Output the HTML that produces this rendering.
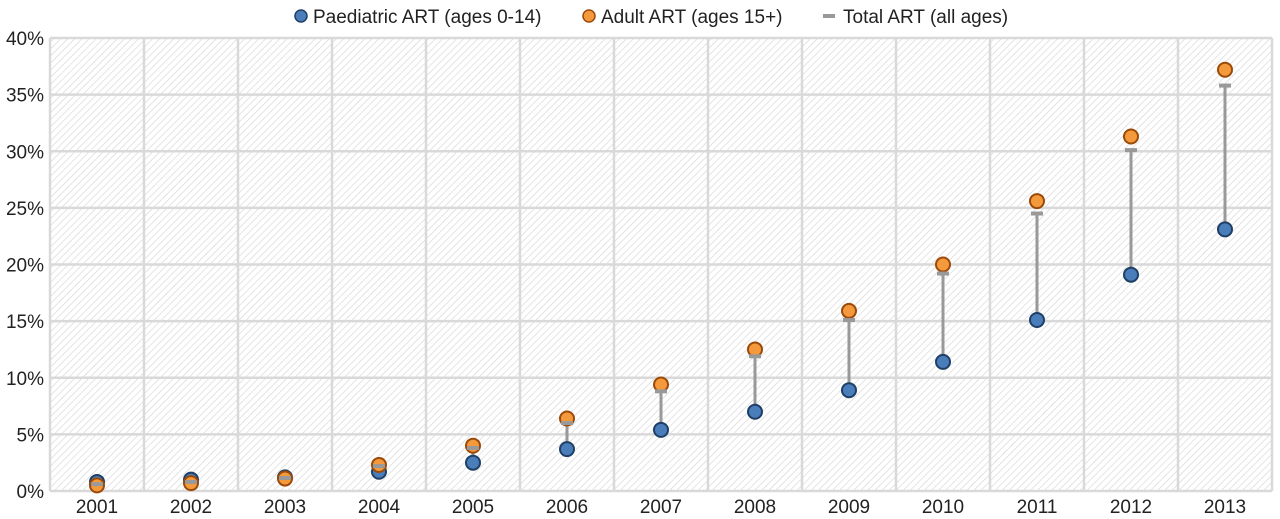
<!DOCTYPE html>
<html><head><meta charset="utf-8"><style>
html,body{margin:0;padding:0;background:#fff;}
svg{display:block;font-family:"Liberation Sans",sans-serif;}
</style></head><body>
<svg id="chart" width="1280" height="519">
<defs>
<pattern id="hatch" width="5" height="5" patternUnits="userSpaceOnUse" patternTransform="rotate(45)">
<rect width="5" height="5" fill="#fff"/>
<line x1="0" y1="0" x2="0" y2="5" stroke="#d6d6d6" stroke-width="1.3"/>
</pattern>
</defs>
<g id="legend" font-size="19" fill="#222">
<g><circle cx="301" cy="16" r="6" fill="#4a7ebb" stroke="#1f3f66" stroke-width="1.5"/><text x="313" y="23">Paediatric ART (ages 0-14)</text></g>
<g><circle cx="589" cy="16" r="6" fill="#f59a3c" stroke="#9c4a0a" stroke-width="1.5"/><text x="601" y="23">Adult ART (ages 15+)</text></g>
<g><rect x="823" y="14" width="12" height="4" fill="#999"/><text x="843" y="23">Total ART (all ages)</text></g>
</g>
<g id="plot"></g>
</svg>
<script>
const years=["2001","2002","2003","2004","2005","2006","2007","2008","2009","2010","2011","2012","2013"];
const paediatric=[0.8,1.0,1.2,1.7,2.5,3.7,5.4,7.0,8.9,11.4,15.1,19.1,23.1];
const adult=[0.5,0.7,1.1,2.3,4.0,6.4,9.4,12.5,15.9,20.0,25.6,31.3,37.2];
const total=[0.6,0.8,1.15,2.2,3.8,6.0,8.8,11.9,15.1,19.2,24.5,30.1,35.8];
const yTicks=[0,5,10,15,20,25,30,35,40];
const L=50,R=1272,T=38,B=491,yMax=40;
const colW=(R-L)/years.length;
const xPos=i=>L+colW*(i+0.5);
const yPos=v=>B-(v/yMax)*(B-T);
const NS="http://www.w3.org/2000/svg";
const g=document.getElementById('plot');
function mk(tag,attrs,parent){const e=document.createElementNS(NS,tag);for(const k in attrs)e.setAttribute(k,attrs[k]);(parent||g).appendChild(e);return e;}
const bg=mk('rect',{x:L,y:T,width:R-L,height:B-T,fill:'url(#hatch)'});


yTicks.forEach(t=>{
 const ln=mk('line',{x1:L,x2:R,y1:yPos(t),y2:yPos(t),stroke:'#d9d9d9','stroke-width':2.5});
 
 
 const tx=mk('text',{x:L-6,y:yPos(t)+7,'text-anchor':'end','font-size':19,fill:'#222'});
 tx.textContent=t+'%';
 
 
});
for(let i=0;i<=years.length;i++){
 const ln=mk('line',{x1:L+colW*i,x2:L+colW*i,y1:T,y2:B,stroke:'#d9d9d9','stroke-width':2.5});
 
 
}
years.forEach((yr,i)=>{
 const x=xPos(i);
 const tx=mk('text',{x:x,y:B+22,'text-anchor':'middle','font-size':19,fill:'#222'});
 tx.textContent=yr;
 
 
 const top=Math.max(total[i],paediatric[i]),bot=Math.min(total[i],paediatric[i]);
 const ln=mk('line',{x1:x,x2:x,y1:yPos(top),y2:yPos(bot),stroke:'#999','stroke-width':3});
 
 
 const p=mk('circle',{cx:x,cy:yPos(paediatric[i]),r:7,fill:'#4a7ebb',stroke:'#1f3f66','stroke-width':2});
 
 
 const a=mk('circle',{cx:x,cy:yPos(adult[i]),r:7,fill:'#f59a3c',stroke:'#9c4a0a','stroke-width':2});
 
 
 const tm=mk('rect',{x:x-6,y:yPos(total[i])-2,width:12,height:4,fill:'#999'});
 
 
});
</script>
</body></html>
